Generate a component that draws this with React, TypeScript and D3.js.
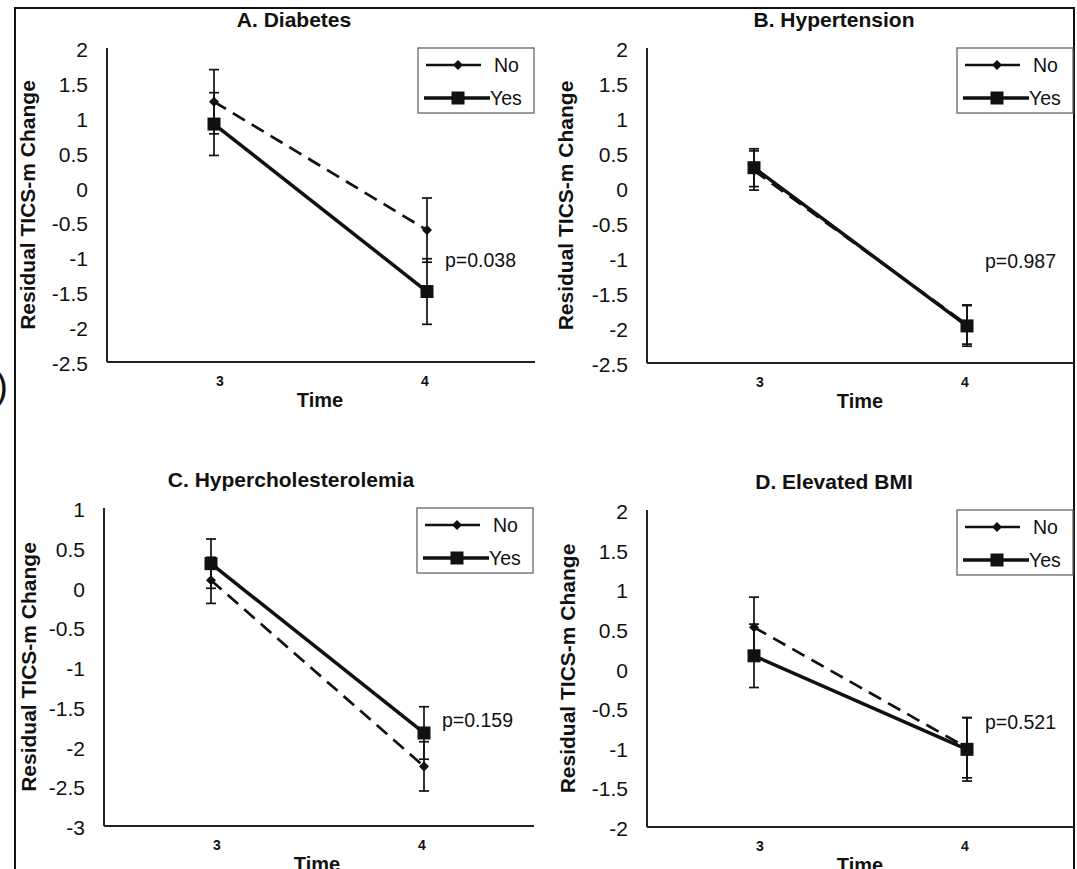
import * as d3 from 'd3';

// time points on the x axis
const timeValues = [3, 4];
const timeLabels = ['3', '4'];

const panelTitles = ['A. Diabetes', 'B. Hypertension', 'C. Hypercholesterolemia', 'D. Elevated BMI'];

// mean residual TICS-m change, [time 3, time 4], one row per panel
const noMeans = [
  [1.23, -0.61],
  [0.25, -1.95],
  [0.09, -2.25],
  [0.52, -1.0],
];
const noErrors = [
  [0.46, 0.46],
  [0.28, 0.28],
  [0.29, 0.31],
  [0.38, 0.38],
];
const yesMeans = [
  [0.91, -1.49],
  [0.29, -1.97],
  [0.3, -1.83],
  [0.16, -1.02],
];
const yesErrors = [
  [0.45, 0.47],
  [0.27, 0.29],
  [0.31, 0.33],
  [0.4, 0.4],
];

const pLabels = ['p=0.038', 'p=0.987', 'p=0.159', 'p=0.521'];
const pLabelY = [-1.04, -1.04, -1.67, -0.67];

const yDomains = [
  [-2.5, 2],
  [-2.5, 2],
  [-3, 1],
  [-2, 2],
];
const yTicksAB = [2, 1.5, 1, 0.5, 0, -0.5, -1, -1.5, -2, -2.5];
const yTicksC = [1, 0.5, 0, -0.5, -1, -1.5, -2, -2.5, -3];
const yTicksD = [2, 1.5, 1, 0.5, 0, -0.5, -1, -1.5, -2];
const yTicks = [yTicksAB, yTicksAB, yTicksC, yTicksD];

// pixel boxes of each plot area
const layouts = [
  { axisX: 107, right: 535, top: 48, bottom: 362, labelX: 28 },
  { axisX: 647, right: 1074, top: 48, bottom: 363, labelX: 566 },
  { axisX: 104, right: 534, top: 508, bottom: 826, labelX: 29 },
  { axisX: 647, right: 1074, top: 510, bottom: 827, labelX: 568 },
];

const FONT = '"Liberation Sans", Arial, Helvetica, sans-serif';
const INK = '#111';

function Panel({ i }: { i: number }) {
  const L = layouts[i];
  const y = d3.scaleLinear().domain(yDomains[i]).range([L.bottom, L.top]);
  const x = d3.scaleLinear().domain([3, 4]).range([L.axisX + 107, L.axisX + 320]);
  const labelX = d3.scaleLinear().domain([3, 4]).range([L.axisX + 113, L.axisX + 318]);

  const line = d3
    .line<number>()
    .x((_, j) => x(timeValues[j]))
    .y((d) => y(d));

  const diamond = d3.symbol().type(d3.symbolDiamond2).size(64)();

  const errorBars = (means: number[], errs: number[]) =>
    means.map((m, j) => {
      const cx = x(timeValues[j]);
      const y1 = y(m + errs[j]);
      const y2 = y(m - errs[j]);
      return (
        <g key={'e' + j} stroke={INK} strokeWidth={1.7}>
          <line x1={cx} x2={cx} y1={y1} y2={y2} />
          <line x1={cx - 5} x2={cx + 5} y1={y1} y2={y1} />
          <line x1={cx - 5} x2={cx + 5} y1={y2} y2={y2} />
        </g>
      );
    });

  const midY = (L.top + L.bottom) / 2;
  const lgX = L.right - 117;
  const lgY = L.top;

  return (
    <g>
      {/* title */}
      <text
        x={L.axisX + 187}
        y={L.top - 21}
        textAnchor="middle"
        fontFamily={FONT}
        fontWeight="bold"
        fontSize={21}
        fill={INK}
      >
        {panelTitles[i]}
      </text>

      {/* y axis label */}
      <text
        transform={`translate(${L.labelX + 7},${midY}) rotate(-90)`}
        textAnchor="middle"
        fontFamily={FONT}
        fontWeight="bold"
        fontSize={21}
        fill={INK}
      >
        Residual TICS-m Change
      </text>

      {/* y ticks */}
      {yTicks[i].map((t) => (
        <text
          key={t}
          x={L.axisX - 19}
          y={y(t) + 9}
          textAnchor="end"
          fontFamily={FONT}
          fontSize={21}
          fill={INK}
        >
          {String(t)}
        </text>
      ))}

      {/* axes */}
      <line x1={L.axisX} x2={L.axisX} y1={L.top} y2={L.bottom} stroke="#222" strokeWidth={2} />
      <line x1={L.axisX} x2={L.right} y1={L.bottom} y2={L.bottom} stroke="#222" strokeWidth={2} />

      {/* x ticks */}
      {timeValues.map((t, j) => (
        <text
          key={t}
          x={labelX(t)}
          y={L.bottom + 24}
          textAnchor="middle"
          fontFamily={FONT}
          fontWeight="bold"
          fontSize={14}
          fill={INK}
        >
          {timeLabels[j]}
        </text>
      ))}
      <text
        x={L.axisX + 213}
        y={L.bottom + 45}
        textAnchor="middle"
        fontFamily={FONT}
        fontWeight="bold"
        fontSize={20}
        fill={INK}
      >
        Time
      </text>

      {/* No series */}
      {errorBars(noMeans[i], noErrors[i])}
      <path d={line(noMeans[i]) || ''} fill="none" stroke={INK} strokeWidth={2.7} strokeDasharray="14,8" />
      {noMeans[i].map((m, j) => (
        <path key={'d' + j} d={diamond || ''} transform={`translate(${x(timeValues[j])},${y(m)})`} fill={INK} />
      ))}

      {/* Yes series */}
      {errorBars(yesMeans[i], yesErrors[i])}
      <path d={line(yesMeans[i]) || ''} fill="none" stroke={INK} strokeWidth={3.5} />
      {yesMeans[i].map((m, j) => (
        <rect key={'s' + j} x={x(timeValues[j]) - 6.5} y={y(m) - 6.5} width={13} height={13} fill={INK} />
      ))}

      {/* p value */}
      <text x={x(4) + 18} y={y(pLabelY[i]) + 7} fontFamily={FONT} fontSize={19.5} fill={INK}>
        {pLabels[i]}
      </text>

      {/* legend */}
      <rect x={lgX} y={lgY} width={116} height={65} fill="white" stroke="#666" strokeWidth={1.3} />
      <line x1={lgX + 8} x2={lgX + 63} y1={lgY + 17} y2={lgY + 17} stroke={INK} strokeWidth={2.4} />
      <path d={diamond || ''} transform={`translate(${lgX + 40},${lgY + 17})`} fill={INK} />
      <text x={lgX + 76} y={lgY + 24} fontFamily={FONT} fontSize={19.5} fill={INK}>
        No
      </text>
      <line x1={lgX + 6} x2={lgX + 72} y1={lgY + 50} y2={lgY + 50} stroke={INK} strokeWidth={3.5} />
      <rect x={lgX + 33.5} y={lgY + 43.5} width={13} height={13} fill={INK} />
      <text x={lgX + 72} y={lgY + 57} fontFamily={FONT} fontSize={19.5} fill={INK}>
        Yes
      </text>
    </g>
  );
}

export default function App() {
  return (
    <svg
      width={1077}
      height={869}
      style={{ position: 'absolute', left: 0, top: 0, background: 'white' }}
    >
      <rect width={1077} height={869} fill="white" />
      {/* outer frame */}
      <path d="M15,869 L15,8 L1074,8 L1074,869" fill="none" stroke={INK} strokeWidth={2} />
      {/* clipped piece of a neighbouring label */}
      <text x={8} y={399} textAnchor="end" fontFamily={FONT} fontSize={38} fill={INK}>
        )
      </text>
      {layouts.map((_, i) => (
        <Panel key={i} i={i} />
      ))}
    </svg>
  );
}
